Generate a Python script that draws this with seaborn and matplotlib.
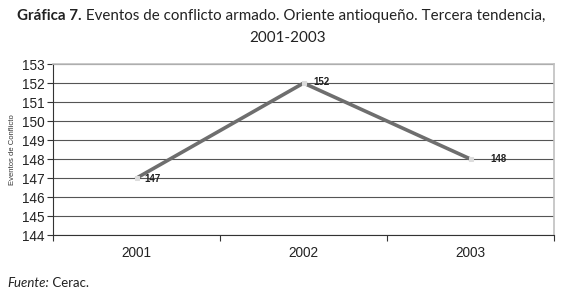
import matplotlib
matplotlib.use("Agg")
import matplotlib.pyplot as plt
import seaborn as sns
import pandas as pd

YEARS = ["2001", "2002", "2003"]
EVENTS = [147, 152, 148]
Y_TICKS = list(range(144, 154))

sns.set_theme(style="white")
plt.rcParams["font.family"] = ["Liberation Sans", "DejaVu Sans"]

df = pd.DataFrame({"year": YEARS, "events": EVENTS})

fig = plt.figure(figsize=(5.8, 2.98), dpi=100)
ax = fig.add_axes([0.0914, 0.211, 0.864, 0.574])

sns.lineplot(data=df, x="year", y="events", ax=ax, color="#6e6e6e", linewidth=2.6,
             marker="s", markersize=3.5, markerfacecolor="#dcdcdc",
             markeredgecolor="#dcdcdc", sort=False)

ax.set_xlim(-0.5, len(YEARS) - 0.5)
ax.set_ylim(Y_TICKS[0], Y_TICKS[-1])
ax.set_yticks(Y_TICKS)
ax.set_yticklabels([str(v) for v in Y_TICKS], fontsize=9.8, color="#222222")
ax.set_xticks(range(len(YEARS)))
ax.set_xticklabels(YEARS, fontsize=9.8, color="#222222")
ax.set_xticks([i - 0.5 for i in range(len(YEARS) + 1)], minor=True)
ax.tick_params(axis="x", which="major", length=0, pad=8)
ax.tick_params(axis="x", which="minor", length=4, width=0.8, color="#333333", direction="out", bottom=True)
ax.tick_params(axis="y", length=4, width=0.8, color="#333333", direction="out", left=True, pad=2)

ax.grid(axis="y", color="#555555", linewidth=0.8)
ax.grid(axis="x", visible=False)
ax.set_axisbelow(True)
for side in ["top", "right"]:
    ax.spines[side].set_color("#c0c0c0")
    ax.spines[side].set_linewidth(1.2)
for side in ["left", "bottom"]:
    ax.spines[side].set_color("#333333")
    ax.spines[side].set_linewidth(0.8)

ax.set_xlabel("")
ax.set_ylabel("Eventos de Conflicto", fontsize=5.5, color="#333333", labelpad=4)

offsets = [(6, -1), (7, 1), (14, 0)]
for i, (v, off) in enumerate(zip(EVENTS, offsets)):
    ax.annotate(str(v), (i, v), xytext=off, textcoords="offset points",
                fontsize=7, fontweight="bold", color="#222222", va="center", ha="left")

# title with bold prefix
title_font = ["Lato", "DejaVu Sans"]
fig.canvas.draw()
r = fig.canvas.get_renderer()
t_bold = fig.text(0, 0.945, "Gráfica 7.", fontsize=10.9, fontweight="bold", family=title_font,
                  color="#222222", va="center")
t_rest = fig.text(0, 0.945, " Eventos de conflicto armado. Oriente antioqueño. Tercera tendencia,",
                  fontsize=10.9, family=title_font, color="#222222", va="center")
wb = t_bold.get_window_extent(r).width
wr = t_rest.get_window_extent(r).width
W = fig.get_figwidth() * fig.dpi
center = 0.485 * W
x0 = center - (wb + wr) / 2
t_bold.set_x(x0 / W)
t_rest.set_x((x0 + wb) / W)
fig.text(0.495, 0.872, "2001-2003", fontsize=10.9, family=title_font, color="#222222",
         ha="center", va="center")

# source note
t_src = fig.text(0.012, 0.05, "Fuente:", fontsize=9.5, style="italic", family=title_font,
                 color="#222222", va="center")
ws = t_src.get_window_extent(r).width
fig.text(0.012 + ws / W, 0.05, " Cerac.", fontsize=9.5, family=title_font, color="#222222", va="center")

fig.savefig("out.png", dpi=100)
